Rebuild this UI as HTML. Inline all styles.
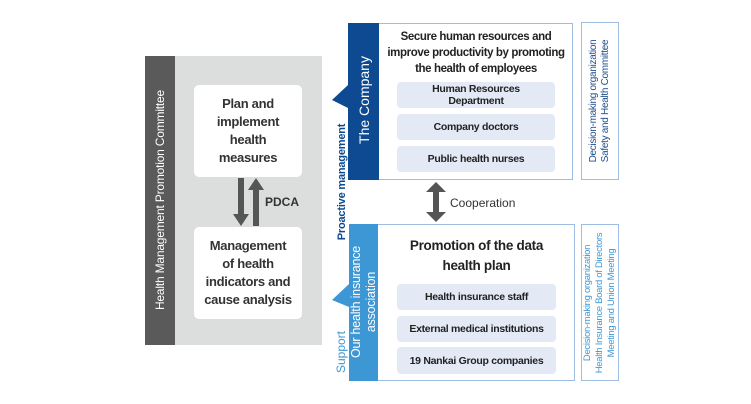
<!DOCTYPE html>
<html><head><meta charset="utf-8"><style>
body{margin:0;width:751px;height:404px;background:#fff;position:relative;overflow:hidden;font-family:"Liberation Sans",sans-serif;}
div{position:absolute;box-sizing:border-box;}
.v{transform:translate(-50%,-50%) rotate(-90deg);text-align:center;white-space:nowrap;}
.wb{background:#fff;border-radius:5px;text-align:center;font-weight:bold;color:#333;font-size:13px;line-height:18px;display:flex;align-items:center;justify-content:center;letter-spacing:-0.3px;}
.it{background:#e3e9f5;border-radius:4px;text-align:center;font-weight:bold;color:#222;font-size:10.5px;line-height:12px;display:flex;align-items:center;justify-content:center;letter-spacing:-0.3px;}
</style></head><body>
<div style="left:145px;top:56px;width:30px;height:289px;background:#5a5a5a"></div>
<div style="left:175px;top:56px;width:147px;height:289px;background:#dcdddd"></div>
<div class="v" style="left:160px;top:200px;width:289px;color:#fff;font-size:12px;letter-spacing:-0.2px">Health Management Promotion Committee</div>
<div class="wb" style="left:194px;top:85px;width:108px;height:92px">Plan and<br>implement<br>health<br>measures</div>
<div class="wb" style="left:194px;top:227px;width:108px;height:92px">Management<br>of health<br>indicators and<br>cause analysis</div>
<svg style="position:absolute;left:0;top:0" width="751" height="404">
<polygon points="238,178 244,178 244,214 249,214 241,226 233,214 238,214" fill="#555"/>
<polygon points="253,226 259,226 259,190 264,190 256,178 248,190 253,190" fill="#555"/>
<polygon points="433,192 439,192 439,212 446,212 436,222 426,212 433,212" fill="#555"/>
<polygon points="433,212 439,212 439,192 446,192 436,182 426,192 433,192" fill="#555"/>
<polygon points="348,85 332,100 348,108" fill="#0d4a91"/>
<polygon points="349,284 332,300 349,307" fill="#3e97d5"/>
</svg>
<div style="left:265px;top:195px;font-weight:bold;font-size:12px;color:#333">PDCA</div>
<div style="left:450px;top:196px;font-size:12px;color:#333">Cooperation</div>
<div style="left:348px;top:23px;width:225px;height:157px;border:1px solid #9dbde3"></div>
<div style="left:348px;top:23px;width:31px;height:157px;background:#0d4a91"></div>
<div class="v" style="left:364px;top:100px;width:157px;color:#fff;font-size:14px">The Company</div>
<div style="left:379px;top:29px;width:194px;text-align:center;font-weight:bold;font-size:11.5px;line-height:16px;color:#222;letter-spacing:-0.4px">Secure human resources and<br>improve productivity by promoting<br>the health of employees</div>
<div class="it" style="left:397px;top:82px;width:158px;height:26px">Human Resources<br>Department</div>
<div class="it" style="left:397px;top:114px;width:158px;height:26px">Company doctors</div>
<div class="it" style="left:397px;top:146px;width:158px;height:26px">Public health nurses</div>
<div style="left:581px;top:22px;width:38px;height:158px;border:1px solid #9dbde3"></div>
<div class="v" style="left:600px;top:101px;width:158px;color:#1f4e8c;font-size:10px;line-height:12px;letter-spacing:-0.3px">Decision-making organization<br>Safety and Health Committee</div>
<div class="v" style="left:342px;top:182px;width:150px;color:#0d4a91;font-size:11px;font-weight:bold;letter-spacing:-0.2px">Proactive management</div>
<div style="left:349px;top:224px;width:226px;height:157px;border:1px solid #9dbde3"></div>
<div style="left:349px;top:224px;width:29px;height:157px;background:#3e97d5"></div>
<div class="v" style="left:364px;top:302px;width:157px;color:#fff;font-size:12.5px;line-height:15px;letter-spacing:-0.2px">Our health insurance<br>association</div>
<div style="left:378px;top:236px;width:197px;text-align:center;font-weight:bold;font-size:13.5px;line-height:20px;color:#222;letter-spacing:-0.3px">Promotion of the data<br>health plan</div>
<div class="it" style="left:397px;top:284px;width:159px;height:26px">Health insurance staff</div>
<div class="it" style="left:397px;top:316px;width:159px;height:26px">External medical institutions</div>
<div class="it" style="left:397px;top:347px;width:159px;height:27px">19 Nankai Group companies</div>
<div style="left:581px;top:224px;width:38px;height:157px;border:1px solid #9dbde3"></div>
<div class="v" style="left:600px;top:303px;width:157px;color:#3e97d5;font-size:9.5px;line-height:12px;letter-spacing:-0.3px">Decision-making organization<br>Health Insurance Board of Directors<br>Meeting and Union Meeting</div>
<div class="v" style="left:341px;top:352px;width:50px;color:#3e97d5;font-size:12px">Support</div>
</body></html>
